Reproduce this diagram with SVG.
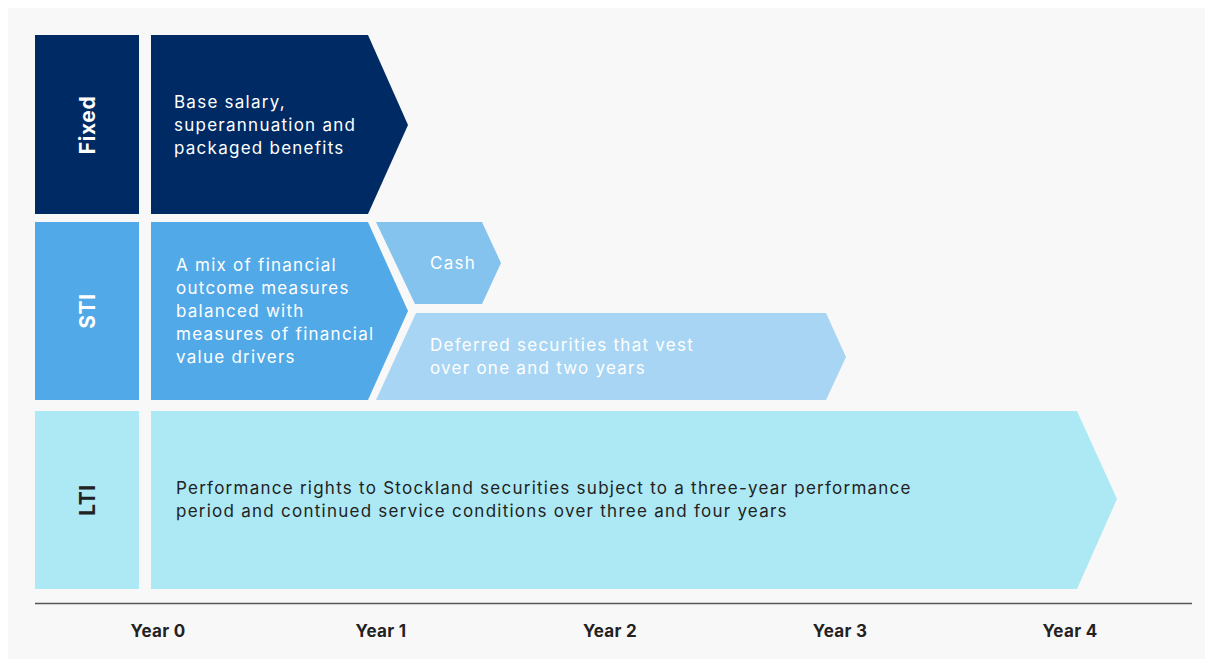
<svg xmlns="http://www.w3.org/2000/svg" width="1205" height="659" viewBox="0 0 1205 659">
  <style>
    .body { font-family: Inter, "Open Sans", "Liberation Sans", sans-serif; font-size: 17px; letter-spacing: 1.25px; }
    .light { fill: #ffffff; }
    .dark { fill: #222222; }
    .tag { font-family: Inter, "Open Sans", "Liberation Sans", sans-serif; font-size: 21px; font-weight: 700; letter-spacing: 0.6px; text-anchor: middle; dominant-baseline: central; }
    .year { font-family: Inter, "Open Sans", "Liberation Sans", sans-serif; font-size: 17px; font-weight: 700; letter-spacing: 0.3px; fill: #222222; text-anchor: middle; }
  </style>
  <rect x="0" y="0" width="1205" height="659" fill="#ffffff"/>
  <rect x="8" y="8" width="1197" height="651" fill="#f8f8f8"/>

  <!-- Fixed row -->
  <g id="fixed-label">
    <rect x="35" y="35" width="104" height="179" fill="#002a64"/>
    <text class="tag light" transform="translate(87 125) rotate(-90)">Fixed</text>
  </g>
  <g id="fixed-body">
    <polygon points="151,35 368,35 408,125 368,214 151,214" fill="#002a64"/>
    <text class="body light" x="174" y="108">Base salary,</text>
    <text class="body light" x="174" y="131">superannuation and</text>
    <text class="body light" x="174" y="154">packaged benefits</text>
  </g>

  <!-- STI row -->
  <g id="sti-label">
    <rect x="35" y="222" width="104" height="178" fill="#52a9e7"/>
    <text class="tag light" transform="translate(87 311) rotate(-90)">STI</text>
  </g>
  <g id="sti-body">
    <polygon points="151,222 368,222 408,311 368,400 151,400" fill="#52a9e7"/>
    <text class="body light" x="176" y="271">A mix of financial</text>
    <text class="body light" x="176" y="294">outcome measures</text>
    <text class="body light" x="176" y="317">balanced with</text>
    <text class="body light" x="176" y="340">measures of financial</text>
    <text class="body light" x="176" y="363">value drivers</text>
  </g>
  <g id="sti-cash">
    <polygon points="376,222 482,222 501,263 482,304 415,304" fill="#85c3ef"/>
    <text class="body light" x="430" y="269">Cash</text>
  </g>
  <g id="sti-deferred">
    <polygon points="416,313 826,313 846,357 826,400 376,400" fill="#a8d5f3"/>
    <text class="body light" x="430" y="351">Deferred securities that vest</text>
    <text class="body light" x="430" y="374">over one and two years</text>
  </g>

  <!-- LTI row -->
  <g id="lti-label">
    <rect x="35" y="411" width="104" height="178" fill="#ade9f5"/>
    <text class="tag dark" transform="translate(87 500) rotate(-90)">LTI</text>
  </g>
  <g id="lti-body">
    <polygon points="151,411 1077,411 1117,499 1077,589 151,589" fill="#ade9f5"/>
    <text class="body dark" x="176" y="494">Performance rights to Stockland securities subject to a three-year performance</text>
    <text class="body dark" x="176" y="517">period and continued service conditions over three and four years</text>
  </g>

  <!-- Time axis -->
  <g id="axis">
    <line x1="35" y1="603.5" x2="1192" y2="603.5" stroke="#555555" stroke-width="1.5"/>
    <text class="year" x="158" y="637">Year 0</text>
    <text class="year" x="381" y="637">Year 1</text>
    <text class="year" x="610" y="637">Year 2</text>
    <text class="year" x="840" y="637">Year 3</text>
    <text class="year" x="1070" y="637">Year 4</text>
  </g>
</svg>
